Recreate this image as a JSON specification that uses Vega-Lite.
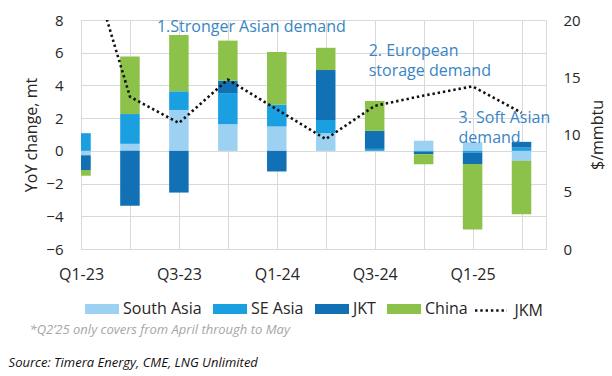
{
  "$schema": "https://vega.github.io/schema/vega-lite/v6.json",
  "width": 465,
  "height": 229,
  "autosize": {"type": "none"},
  "padding": {"left": 81, "top": 20, "right": 66, "bottom": 127},
  "background": "white",
  "config": {
    "font": "Open Sans",
    "view": {"stroke": "#d9d9d9", "strokeWidth": 1},
    "axis": {"labelColor": "#262626", "titleColor": "#262626", "titleFontWeight": "normal", "gridColor": "#d9d9d9", "gridWidth": 1, "domain": false, "ticks": false, "tickSize": 0, "labelOverlap": false}
  },
  "datasets": {
    "bars": [
      {"quarter": "Q1-23", "series": "South Asia", "value": -0.27},
      {"quarter": "Q1-23", "series": "SE Asia", "value": 1.08},
      {"quarter": "Q1-23", "series": "JKT", "value": -0.90},
      {"quarter": "Q1-23", "series": "China", "value": -0.35},
      {"quarter": "Q2-23", "series": "South Asia", "value": 0.43},
      {"quarter": "Q2-23", "series": "SE Asia", "value": 1.82},
      {"quarter": "Q2-23", "series": "JKT", "value": -3.36},
      {"quarter": "Q2-23", "series": "China", "value": 3.52},
      {"quarter": "Q3-23", "series": "South Asia", "value": 2.50},
      {"quarter": "Q3-23", "series": "SE Asia", "value": 1.14},
      {"quarter": "Q3-23", "series": "JKT", "value": -2.55},
      {"quarter": "Q3-23", "series": "China", "value": 3.44},
      {"quarter": "Q4-23", "series": "South Asia", "value": 1.63},
      {"quarter": "Q4-23", "series": "SE Asia", "value": 1.90},
      {"quarter": "Q4-23", "series": "JKT", "value": 0.75},
      {"quarter": "Q4-23", "series": "China", "value": 2.46},
      {"quarter": "Q1-24", "series": "South Asia", "value": 1.49},
      {"quarter": "Q1-24", "series": "SE Asia", "value": 1.33},
      {"quarter": "Q1-24", "series": "JKT", "value": -1.26},
      {"quarter": "Q1-24", "series": "China", "value": 3.22},
      {"quarter": "Q2-24", "series": "South Asia", "value": 1.08},
      {"quarter": "Q2-24", "series": "SE Asia", "value": 0.81},
      {"quarter": "Q2-24", "series": "JKT", "value": 3.05},
      {"quarter": "Q2-24", "series": "China", "value": 1.36},
      {"quarter": "Q3-24", "series": "South Asia", "value": 0.0},
      {"quarter": "Q3-24", "series": "SE Asia", "value": 0.12},
      {"quarter": "Q3-24", "series": "JKT", "value": 1.10},
      {"quarter": "Q3-24", "series": "China", "value": 1.83},
      {"quarter": "Q4-24", "series": "South Asia", "value": 0.62},
      {"quarter": "Q4-24", "series": "SE Asia", "value": -0.05},
      {"quarter": "Q4-24", "series": "JKT", "value": -0.15},
      {"quarter": "Q4-24", "series": "China", "value": -0.62},
      {"quarter": "Q1-25", "series": "South Asia", "value": 0.52},
      {"quarter": "Q1-25", "series": "SE Asia", "value": -0.10},
      {"quarter": "Q1-25", "series": "JKT", "value": -0.71},
      {"quarter": "Q1-25", "series": "China", "value": -4.00},
      {"quarter": "Q2-25", "series": "South Asia", "value": -0.61},
      {"quarter": "Q2-25", "series": "SE Asia", "value": 0.20},
      {"quarter": "Q2-25", "series": "JKT", "value": 0.35},
      {"quarter": "Q2-25", "series": "China", "value": -3.26}
    ],
    "jkm": [
      {"quarter": "Q1-23", "series": "JKM", "price": 27.6},
      {"quarter": "Q2-23", "series": "JKM", "price": 13.3},
      {"quarter": "Q3-23", "series": "JKM", "price": 11.0},
      {"quarter": "Q4-23", "series": "JKM", "price": 14.8},
      {"quarter": "Q1-24", "series": "JKM", "price": 12.2},
      {"quarter": "Q2-24", "series": "JKM", "price": 9.6},
      {"quarter": "Q3-24", "series": "JKM", "price": 12.5},
      {"quarter": "Q4-24", "series": "JKM", "price": 13.4},
      {"quarter": "Q1-25", "series": "JKM", "price": 14.2},
      {"quarter": "Q2-25", "series": "JKM", "price": 11.9}
    ]
  },
  "layer": [
    {
      "data": {"name": "bars"},
      "mark": {"type": "bar", "width": 19.5, "clip": true},
      "encoding": {
        "x": {
          "field": "quarter", "type": "ordinal",
          "scale": {"type": "point", "domain": ["Q1-23","Q2-23","Q3-23","Q4-23","Q1-24","Q2-24","Q3-24","Q4-24","Q1-25","Q2-25"], "padding": 0.25, "align": 0},
          "axis": {
            "grid": true, "labelAngle": 0, "labelFontSize": 16, "labelPadding": 17,
            "labelExpr": "indexof(['Q1','Q3'], slice(datum.label, 0, 2)) >= 0 ? datum.label : ''",
            "title": "*Q2’25 only covers from April through to May",
            "titleFontSize": 13, "titleFontStyle": "italic", "titleColor": "#a6a6a6",
            "titleAnchor": "start", "titleAlign": "left", "titleBaseline": "alphabetic",
            "titleX": -52, "titleY": 84.5
          }
        },
        "y": {
          "field": "value", "type": "quantitative", "stack": "zero",
          "scale": {"domain": [-6, 8], "nice": false, "zero": false},
          "axis": {"values": [-6,-4,-2,0,2,4,6,8], "grid": true, "labelOverlap": false, "labelFontSize": 15, "labelPadding": 18, "title": "YoY change, mt", "titleFontSize": 16, "titlePadding": 6}
        },
        "color": {
          "field": "series", "type": "nominal",
          "sort": ["South Asia","SE Asia","JKT","China"],
          "scale": {"domain": ["South Asia","SE Asia","JKT","China"], "range": ["#9dd1f2","#1a9fe0","#1271b5","#8cc24a"]},
          "legend": {
            "orient": "none", "legendX": 4, "legendY": 272, "direction": "horizontal", "title": null,
            "symbolType": "M-1,-0.3H1V0.3H-1Z", "symbolSize": 1156, "symbolStrokeWidth": 0, "symbolOpacity": 1,
            "labelFontSize": 16, "labelColor": "#262626", "labelOffset": 4, "columnPadding": 11
          }
        }
      }
    },
    {
      "data": {"values": [{"quarter": "Q2-23", "value": 7.27, "note": "1.Stronger Asian demand"}]},
      "mark": {"type": "text", "align": "left", "baseline": "alphabetic", "dx": 27, "fontSize": 16, "color": "#3885c5"},
      "encoding": {
        "x": {"field": "quarter", "type": "ordinal"},
        "y": {"field": "value", "type": "quantitative", "scale": {"domain": [-6, 8], "nice": false, "zero": false}, "axis": null},
        "text": {"field": "note"}
      }
    },
    {
      "data": {"values": [{"quarter": "Q3-24", "value": 5.8, "note": ["2. European", "storage demand"]}]},
      "mark": {"type": "text", "align": "left", "baseline": "alphabetic", "dx": -6, "fontSize": 16, "lineHeight": 20, "color": "#3885c5"},
      "encoding": {
        "x": {"field": "quarter", "type": "ordinal"},
        "y": {"field": "value", "type": "quantitative", "scale": {"domain": [-6, 8], "nice": false, "zero": false}, "axis": null},
        "text": {"field": "note"}
      }
    },
    {
      "data": {"values": [{"quarter": "Q1-25", "value": 1.72, "note": ["3. Soft Asian", "demand"]}]},
      "mark": {"type": "text", "align": "left", "baseline": "alphabetic", "dx": -14, "fontSize": 16, "lineHeight": 20, "color": "#3885c5"},
      "encoding": {
        "x": {"field": "quarter", "type": "ordinal"},
        "y": {"field": "value", "type": "quantitative", "scale": {"domain": [-6, 8], "nice": false, "zero": false}, "axis": null},
        "text": {"field": "note"}
      }
    },
    {
      "data": {"name": "jkm"},
      "mark": {"type": "line", "clip": true, "strokeWidth": 2.6, "color": "#111111"},
      "encoding": {
        "x": {"field": "quarter", "type": "ordinal"},
        "y": {
          "field": "price", "type": "quantitative",
          "scale": {"domain": [0, 20], "nice": false, "zero": false},
          "axis": {"orient": "right", "values": [0,5,10,15,20], "grid": false, "labelOverlap": false, "labelFontSize": 15, "labelPadding": 17, "title": "$/mmbtu", "titleFontSize": 16, "titleAngle": 270, "titleBaseline": "top", "titlePadding": 9}
        },
        "strokeDash": {
          "field": "series", "type": "nominal",
          "scale": {"domain": ["JKM"], "range": [[2.4, 2.9]]},
          "legend": {
            "orient": "none", "legendX": 392.5, "legendY": 273, "direction": "horizontal", "title": null,
            "symbolType": "stroke", "symbolSize": 1024, "symbolStrokeWidth": 2.6, "symbolStrokeColor": "#111111",
            "labelFontSize": 16, "labelColor": "#262626", "labelOffset": 6
          }
        }
      }
    }
  ],
  "resolve": {"scale": {"y": "independent"}},
  "title": {"text": "Source: Timera Energy, CME, LNG Unlimited", "orient": "bottom", "anchor": "start", "frame": "group", "dx": -72.4, "offset": 30, "fontSize": 13, "fontStyle": "italic", "fontWeight": "normal", "color": "#111111", "baseline": "alphabetic"}
}
